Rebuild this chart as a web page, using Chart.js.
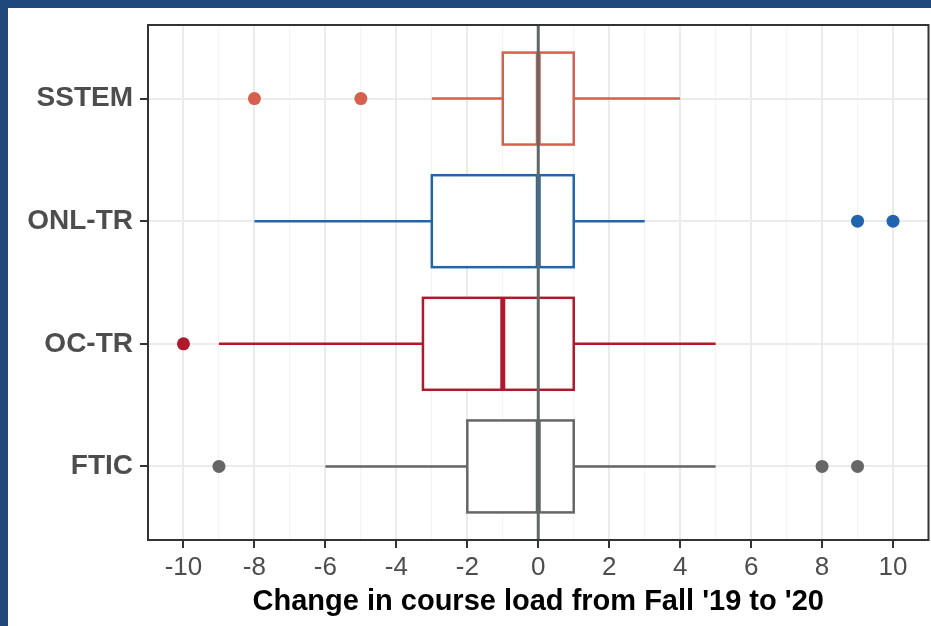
<!DOCTYPE html>
<html lang="en">
<head>
  <meta charset="UTF-8" />
  <title>Change in course load</title>
  <script src="https://cdn.jsdelivr.net/npm/chart.js"></script>
  <style>
    html,body{margin:0;padding:0;}
    body{width:931px;height:626px;background:#fff;position:relative;overflow:hidden;}
    .frame-top{position:absolute;left:0;top:0;width:931px;height:8px;background:#1f497d;z-index:2;}
    .frame-left{position:absolute;left:0;top:0;width:8px;height:626px;background:#1f497d;z-index:2;}
    #boxChart{position:absolute;left:8px;top:8px;}
  </style>
</head>
<body>
  <div class="frame-top"></div>
  <div class="frame-left"></div>
  <canvas id="boxChart" width="927" height="618"></canvas>

  <script>
  // groups, top to bottom
  const categories = ['SSTEM','ONL-TR','OC-TR','FTIC'];
  const q1 = [-1, -3, -3.25, -2];
  const medians = [0, 0, -1, 0];
  const q3 = [1, 1, 1, 1];
  const whiskerLow = [-3, -8, -9, -6];
  const whiskerHigh = [4, 3, 5, 5];
  const outliers = [[-8, -5], [9, 10], [-10], [-9, 8, 9]];
  const colors = ['#d6604d', '#2166ac', '#b2182b', '#666666'];
  const xTicks = [-10, -8, -6, -4, -2, 0, 2, 4, 6, 8, 10];

  const FONT = "'Liberation Sans', Arial, Helvetica, sans-serif";
  const BOX_HALF = 0.375;

  const boxPlugin = {
    id: 'boxes',
    beforeDatasetsDraw(chart) {
      const {ctx, scales:{x, y}} = chart;
      ctx.save();
      categories.forEach((c, i) => {
        const yc = y.getPixelForValue(i);
        const yt = y.getPixelForValue(i - BOX_HALF);
        const yb = y.getPixelForValue(i + BOX_HALF);
        ctx.strokeStyle = colors[i];
        ctx.lineWidth = 2.5;
        // whiskers
        ctx.beginPath();
        ctx.moveTo(x.getPixelForValue(whiskerLow[i]), yc);
        ctx.lineTo(x.getPixelForValue(q1[i]), yc);
        ctx.moveTo(x.getPixelForValue(q3[i]), yc);
        ctx.lineTo(x.getPixelForValue(whiskerHigh[i]), yc);
        ctx.stroke();
        // box
        const xl = x.getPixelForValue(q1[i]), xr = x.getPixelForValue(q3[i]);
        ctx.fillStyle = '#ffffff';
        ctx.fillRect(xl, yt, xr - xl, yb - yt);
        ctx.strokeRect(xl, yt, xr - xl, yb - yt);
        // median
        ctx.lineWidth = 5;
        ctx.beginPath();
        ctx.moveTo(x.getPixelForValue(medians[i]), yt);
        ctx.lineTo(x.getPixelForValue(medians[i]), yb);
        ctx.stroke();
      });
      ctx.restore();
    },
    afterDatasetsDraw(chart) {
      const {ctx, chartArea:a, scales:{x}} = chart;
      ctx.save();
      // reference line at zero
      ctx.strokeStyle = '#5f6868';
      ctx.lineWidth = 3;
      ctx.beginPath();
      ctx.moveTo(x.getPixelForValue(0), a.top);
      ctx.lineTo(x.getPixelForValue(0), a.bottom);
      ctx.stroke();
      // panel border
      ctx.strokeStyle = '#333333';
      ctx.lineWidth = 2;
      ctx.strokeRect(a.left, a.top, a.right - a.left, a.bottom - a.top);
      ctx.restore();
    }
  };

  const datasets = categories.map((c, i) => ({
    label: c,
    data: outliers[i].map(v => ({x: v, y: i})),
    backgroundColor: colors[i],
    borderColor: colors[i],
    pointRadius: 6.5,
    pointHoverRadius: 6.5,
    borderWidth: 0
  }));

  const isMajor = v => xTicks.includes(v);
  const noPad = s => { s.paddingTop = 0; s.paddingBottom = 0; s.paddingLeft = 0; s.paddingRight = 0; };

  new Chart(document.getElementById('boxChart'), {
    type: 'scatter',
    data: {datasets},
    plugins: [boxPlugin],
    options: {
      responsive: false,
      devicePixelRatio: 1,
      animation: false,
      layout: {padding: {top: 17, right: 3, left: 0, bottom: 0}},
      plugins: {legend: {display: false}, tooltip: {enabled: false}},
      scales: {
        x: {
          type: 'linear',
          min: -11, max: 11,
          border: {display: false},
          grid: {
            color: c => Math.abs(c.tick.value) >= 11 ? 'rgba(0,0,0,0)' : (isMajor(c.tick.value) ? '#ebebeb' : '#f4f4f4'),
            lineWidth: c => isMajor(c.tick.value) ? 2 : 1.2,
            tickColor: c => isMajor(c.tick.value) ? '#333333' : 'rgba(0,0,0,0)',
            tickWidth: 2,
            tickLength: 8
          },
          ticks: {
            stepSize: 1,
            autoSkip: false,
            maxRotation: 0,
            padding: 4,
            color: '#4d4d4d',
            font: {family: FONT, size: 26},
            callback: v => isMajor(v) ? String(v) : ''
          },
          title: {
            display: true,
            text: "Change in course load from Fall '19 to '20",
            color: '#000000',
            font: {family: FONT, size: 29, weight: 'bold'},
            padding: {top: 2, bottom: 7}
          },
          afterFit: s => { s.height = 86; noPad(s); }
        },
        y: {
          type: 'linear',
          min: -0.6, max: 3.6,
          reverse: true,
          border: {display: false},
          afterBuildTicks: s => { s.ticks = categories.map((c, i) => ({value: i})); },
          grid: {
            color: '#ebebeb',
            lineWidth: 2,
            tickColor: '#333333',
            tickWidth: 2,
            tickLength: 8
          },
          ticks: {
            autoSkip: false,
            padding: 7,
            color: '#4d4d4d',
            font: {family: FONT, size: 28, weight: 'bold'},
            callback: v => categories[v]
          },
          afterFit: s => { s.width = 140; noPad(s); }
        }
      }
    }
  });
  </script>
</body>
</html>
